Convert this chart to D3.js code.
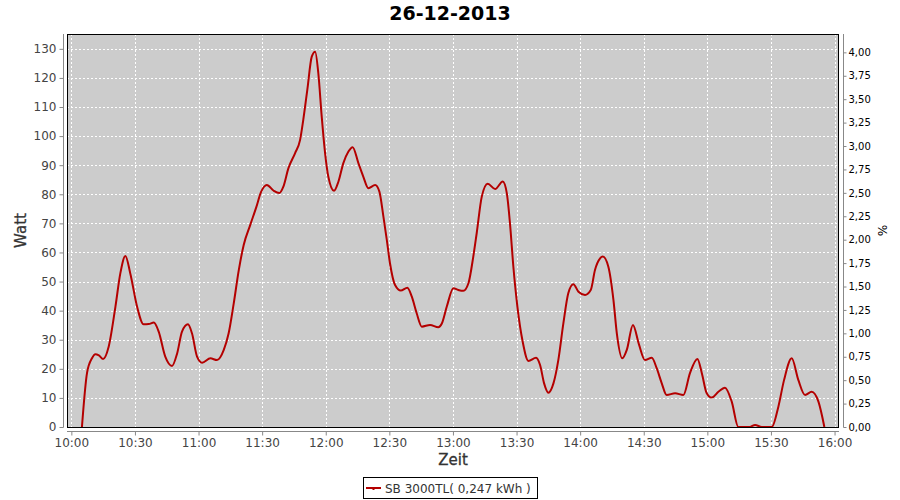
<!DOCTYPE html>
<html>
<head>
<meta charset="utf-8">
<script src="https://cdn.jsdelivr.net/npm/d3@7/dist/d3.min.js"></script>
<style>
  html, body { margin: 0; padding: 0; background: #fff; }
  svg { display: block; font-family: "DejaVu Sans", sans-serif; }
</style>
</head>
<body>
<svg id="chart" width="900" height="500"></svg>
<script>
// ---- data (minutes after 10:00, Watt) ----
const title = "26-12-2013";
const seriesName = "SB 3000TL( 0,247 kWh )";
const minutes = [5.0, 7.4, 9.8, 11.3, 13, 15, 17.6, 20.8, 23.1, 25.5, 27.8, 31, 34.1, 36.5, 38.9, 41.2, 44.3, 47.5, 49.9, 52.2, 55, 56.9, 59.3, 61.7, 65.6, 68.7, 71.9, 74.2, 76.6, 79, 81.3, 84.4, 87.2, 89.5, 92.2, 95.3, 98.1, 100, 102.4, 105.5, 107.9, 109.4, 111.3, 113.4, 115, 116.5, 118.1, 119.7, 121.2, 123.9, 126, 128.3, 130.7, 132.7, 135.4, 137.7, 140.1, 143.3, 145.3, 147.2, 148.8, 150.3, 152.7, 155.4, 158.5, 160.6, 162.9, 165.3, 169.2, 173.1, 174.7, 177.1, 180.2, 182.5, 184.9, 187.3, 189.6, 191.2, 193.6, 196.4, 199.9, 203.5, 205.4, 206.9, 208.5, 210.4, 212.9, 215.6, 219.2, 221.1, 223, 225, 227.4, 229.7, 232.1, 234.4, 236.8, 239.2, 242.3, 245, 247, 249.4, 250.7, 253.3, 255.7, 257.3, 259.9, 262, 264.9, 267.7, 270.6, 273.8, 276.1, 278.5, 280.8, 284.8, 288.7, 291.8, 295.3, 297.4, 299.7, 302.1, 305.2, 308.3, 311.5, 314.6, 320, 322.5, 325.7, 330.4, 333.5, 336.2, 339.8, 342.9, 346.1, 349.2, 352.4, 355.2];
const watts = [0, 18.6, 23.7, 25, 24.6, 23.4, 27.6, 41.4, 52.8, 58.8, 52.8, 41.4, 35.3, 35.4, 35.9, 32.8, 24.2, 21, 25.3, 32.8, 35.3, 32.2, 24.2, 22.1, 23.6, 23, 26.5, 32.2, 42.5, 54, 62.6, 69.5, 75.5, 80.8, 83.2, 81.3, 80.4, 82.6, 89, 94.1, 98.7, 105.6, 115.9, 127.3, 129, 121.6, 106.7, 94.1, 86.1, 81.2, 84.4, 90.7, 94.7, 96.2, 90.7, 86.1, 82.1, 83.2, 80.9, 72.3, 64.3, 56.3, 48.8, 46.9, 47.9, 44.8, 39.1, 34.5, 35.1, 34.3, 35.5, 41.4, 47.7, 47.1, 46.8, 49.4, 58.6, 66.6, 79.2, 83.6, 81.8, 84.4, 80.4, 70, 55.1, 41.4, 29.3, 22.7, 23.8, 21.3, 15, 11.8, 15, 23, 35.7, 46, 49.1, 46.5, 45.4, 47.1, 54, 58, 58.6, 55.1, 43.7, 32.2, 23.6, 26.5, 35.1, 28.5, 23, 23.8, 20.2, 15, 11, 11.6, 11, 18.5, 23.4, 18.5, 11.6, 10.1, 12.1, 13.5, 8.7, 0, 0, 0.7, 0, 0, 7, 16.2, 23.6, 16.2, 11, 12.1, 8.7, 0];
const leftTicks = [0, 10, 20, 30, 40, 50, 60, 70, 80, 90, 100, 110, 120, 130];
const rightTicks = [0, 0.25, 0.5, 0.75, 1, 1.25, 1.5, 1.75, 2, 2.25, 2.5, 2.75, 3, 3.25, 3.5, 3.75, 4];
const xTickLabels = ["10:00", "10:30", "11:00", "11:30", "12:00", "12:30", "13:00", "13:30", "14:00", "14:30", "15:00", "15:30", "16:00"];

// ---- layout ----
const plot = { left: 67, right: 839, top: 34, bottom: 427 };
const svg = d3.select("#chart");
const base = new Date(2013, 11, 26, 10, 0, 0);
const toDate = m => new Date(base.getTime() + m * 60000);
const parseHM = d3.timeParse("%Y-%m-%d %H:%M");
const xTicks = xTickLabels.map(s => parseHM("2013-12-26 " + s));

const x = d3.scaleTime().domain([toDate(-2.05), toDate(362.1)]).range([plot.left, plot.right]);
const y = d3.scaleLinear().domain([0, 135.1]).range([plot.bottom, plot.top]);
const y2 = d3.scaleLinear().domain([0, 4.196]).range([plot.bottom, plot.top]);

const data = minutes.map((m, i) => ({ t: toDate(m), w: watts[i] }));

// title
svg.append("text").attr("x", 450).attr("y", 20).attr("text-anchor", "middle")
  .attr("font-size", 19).attr("font-weight", "bold").attr("fill", "#000").text(title);

// plot background
svg.append("rect").attr("x", plot.left).attr("y", plot.top)
  .attr("width", plot.right - plot.left).attr("height", plot.bottom - plot.top)
  .attr("fill", "#cccccc");

// gridlines
const grid = svg.append("g").attr("stroke", "#fff").attr("stroke-width", 1).attr("stroke-dasharray", "2,2");
grid.selectAll("line.v").data(xTicks).join("line")
  .attr("x1", d => Math.round(x(d)) + 0.5).attr("x2", d => Math.round(x(d)) + 0.5)
  .attr("y1", plot.top).attr("y2", plot.bottom);
grid.selectAll("line.h").data(leftTicks.filter(d => d > 0)).join("line")
  .attr("x1", plot.left).attr("x2", plot.right)
  .attr("y1", d => Math.round(y(d)) + 0.5).attr("y2", d => Math.round(y(d)) + 0.5);

// line
svg.append("clipPath").attr("id", "clip").append("rect")
  .attr("x", plot.left).attr("y", plot.top).attr("width", plot.right - plot.left).attr("height", plot.bottom - plot.top + 1);
svg.append("path").datum(data)
  .attr("clip-path", "url(#clip)")
  .attr("fill", "none").attr("stroke", "#b40000").attr("stroke-width", 2)
  .attr("stroke-linejoin", "round")
  .attr("d", d3.line().x(d => x(d.t)).y(d => y(d.w)).curve(d3.curveMonotoneX));

// plot border
svg.append("rect").attr("x", plot.left + 0.5).attr("y", plot.top + 0.5)
  .attr("width", plot.right - plot.left - 1).attr("height", plot.bottom - plot.top)
  .attr("fill", "none").attr("stroke", "#000").attr("stroke-width", 1);

// left axis
const gL = svg.append("g").attr("transform", "translate(63.5,0)")
  .call(d3.axisLeft(y).tickValues(leftTicks).tickSize(4).tickPadding(3).tickSizeOuter(0));
gL.select(".domain").attr("stroke", "#888").attr("d", `M0,${plot.top}V${plot.bottom + 0.5}`);
gL.selectAll(".tick line").attr("stroke", "#888");
gL.selectAll(".tick text").attr("font-size", 12).attr("fill", "#444").attr("font-family", "DejaVu Sans");

// right axis
const gR = svg.append("g").attr("transform", "translate(843.5,0)")
  .call(d3.axisRight(y2).tickValues(rightTicks).tickSize(3).tickPadding(2).tickSizeOuter(0)
    .tickFormat(d => d3.format(".2f")(d).replace(".", ",")));
gR.select(".domain").attr("stroke", "#888").attr("d", `M0,${plot.top}V${plot.bottom + 0.5}`);
gR.selectAll(".tick line").attr("stroke", "#888");
gR.selectAll(".tick text").attr("font-size", 10).attr("fill", "#000").attr("font-family", "DejaVu Sans");

// bottom axis
const gB = svg.append("g").attr("transform", "translate(0,431.5)")
  .call(d3.axisBottom(x).tickValues(xTicks).tickFormat(d3.timeFormat("%H:%M")).tickSize(4).tickPadding(3).tickSizeOuter(0));
gB.select(".domain").attr("stroke", "#888").attr("d", `M${plot.left},0H${plot.right}`);
gB.selectAll(".tick line").attr("stroke", "#888");
gB.selectAll(".tick text").attr("font-size", 12).attr("fill", "#444").attr("font-family", "DejaVu Sans");

// axis labels
svg.append("text").attr("x", (plot.left + plot.right) / 2).attr("y", 465).attr("text-anchor", "middle")
  .attr("font-size", 15).attr("fill", "#333").attr("stroke", "#333").attr("stroke-width", 0.3).text("Zeit");
svg.append("text").attr("transform", `translate(26,${(plot.top + plot.bottom) / 2}) rotate(-90)`)
  .attr("text-anchor", "middle").attr("font-size", 15).attr("fill", "#333").attr("stroke", "#333").attr("stroke-width", 0.3).text("Watt");
svg.append("text").attr("transform", `translate(878,${(plot.top + plot.bottom) / 2}) rotate(90)`)
  .attr("text-anchor", "middle").attr("font-size", 12).attr("fill", "#000").text("%");

// legend
const lg = svg.append("g");
lg.append("rect").attr("x", 363.5).attr("y", 477.5).attr("width", 174).attr("height", 21)
  .attr("fill", "#fff").attr("stroke", "#000").attr("stroke-width", 1);
lg.append("line").attr("x1", 366).attr("x2", 381).attr("y1", 488).attr("y2", 488)
  .attr("stroke", "#b40000").attr("stroke-width", 2);
lg.append("rect").attr("x", 372.5).attr("y", 488).attr("width", 2).attr("height", 2).attr("fill", "#b40000");
lg.append("text").attr("x", 385).attr("y", 492.5).attr("font-size", 12).attr("fill", "#333").text(seriesName);
</script>
</body>
</html>
